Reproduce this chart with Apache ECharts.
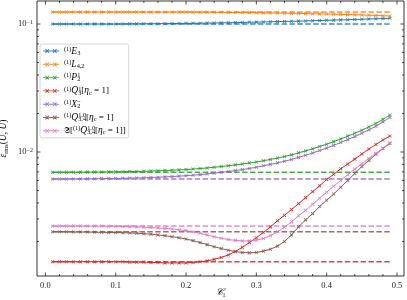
<!DOCTYPE html>
<html><head><meta charset="utf-8">
<script src="https://cdn.jsdelivr.net/npm/echarts@6/dist/echarts.min.js"></script>
<style>html,body{margin:0;padding:0;background:#fff}#c{width:407px;height:300px}</style>
</head><body><div id="c"></div>
<script>
const xValues = [0.01,0.02,0.03,0.04,0.05,0.06,0.07,0.08,0.09,0.10,0.11,0.12,0.13,0.14,0.15,0.16,0.17,0.18,0.19,0.20,0.21,0.22,0.23,0.24,0.25,0.26,0.27,0.28,0.29,0.30,0.31,0.32,0.33,0.34,0.35,0.36,0.37,0.38,0.39,0.40,0.41,0.42,0.43,0.44,0.45,0.46,0.47,0.48,0.49];

const valE3 = [0.1000,0.1000,0.1000,0.1000,0.1000,0.1000,0.1000,0.1000,0.1000,0.1000,0.1001,0.1002,0.1003,0.1004,0.1005,0.1006,0.1007,0.1008,0.1010,0.1011,0.1013,0.1015,0.1017,0.1019,0.1021,0.1023,0.1026,0.1029,0.1032,0.1035,0.1038,0.1041,0.1044,0.1047,0.1050,0.1053,0.1057,0.1061,0.1065,0.1069,0.1073,0.1077,0.1081,0.1085,0.1090,0.1095,0.1100,0.1104,0.1108];
const valL42 = [0.1240,0.1240,0.1240,0.1240,0.1240,0.1240,0.1240,0.1240,0.1240,0.1240,0.1240,0.1240,0.1240,0.1240,0.1240,0.1240,0.1240,0.1240,0.1240,0.1240,0.1239,0.1238,0.1237,0.1236,0.1235,0.1233,0.1231,0.1229,0.1227,0.1225,0.1223,0.1221,0.1218,0.1215,0.1212,0.1209,0.1206,0.1203,0.1200,0.1197,0.1193,0.1189,0.1185,0.1181,0.1177,0.1172,0.1167,0.1161,0.1155];
const valP21 = [0.00694,0.00694,0.00694,0.00695,0.00695,0.00696,0.00697,0.00698,0.00699,0.00700,0.00702,0.00703,0.00705,0.00707,0.00710,0.00713,0.00717,0.00721,0.00725,0.00730,0.00736,0.00743,0.00751,0.00760,0.00770,0.00781,0.00793,0.00806,0.00820,0.00835,0.00855,0.00875,0.00897,0.00922,0.00950,0.00985,0.01020,0.01060,0.01105,0.01150,0.01205,0.01265,0.01330,0.01400,0.01480,0.01570,0.01670,0.01800,0.01945];
const valQ31 = [0.00139,0.00139,0.00139,0.00139,0.00139,0.00139,0.00139,0.00139,0.00139,0.00139,0.00139,0.00138,0.00138,0.00138,0.00137,0.00137,0.00136,0.00136,0.00136,0.00136,0.00137,0.00139,0.00141,0.00145,0.00150,0.00157,0.00167,0.00180,0.00196,0.00214,0.00235,0.00260,0.00290,0.00320,0.00355,0.00395,0.00440,0.00490,0.00545,0.00610,0.00670,0.00740,0.00805,0.00880,0.00965,0.01055,0.01145,0.01240,0.01334];
const valX2 = [0.00615,0.00615,0.00615,0.00616,0.00616,0.00617,0.00618,0.00619,0.00620,0.00621,0.00623,0.00625,0.00627,0.00629,0.00632,0.00635,0.00639,0.00643,0.00648,0.00653,0.00659,0.00666,0.00674,0.00683,0.00693,0.00704,0.00716,0.00729,0.00744,0.00760,0.00780,0.00800,0.00822,0.00847,0.00875,0.00908,0.00943,0.00983,0.01027,0.01073,0.01127,0.01187,0.01250,0.01320,0.01400,0.01490,0.01590,0.01720,0.01866];
const valQ34 = [0.00238,0.00238,0.00238,0.00237,0.00237,0.00237,0.00236,0.00236,0.00235,0.00235,0.00234,0.00233,0.00232,0.00230,0.00228,0.00225,0.00222,0.00218,0.00214,0.00209,0.00203,0.00196,0.00189,0.00182,0.00176,0.00171,0.00167,0.00164,0.00163,0.00164,0.00168,0.00174,0.00184,0.00200,0.00225,0.00260,0.00295,0.00330,0.00375,0.00420,0.00470,0.00530,0.00600,0.00680,0.00770,0.00860,0.00960,0.01065,0.01165];
const valSQ34 = [0.00264,0.00264,0.00264,0.00264,0.00264,0.00264,0.00264,0.00264,0.00263,0.00263,0.00262,0.00261,0.00260,0.00259,0.00257,0.00255,0.00253,0.00250,0.00247,0.00243,0.00238,0.00232,0.00225,0.00218,0.00212,0.00207,0.00204,0.00202,0.00202,0.00205,0.00211,0.00222,0.00238,0.00258,0.00285,0.00318,0.00350,0.00390,0.00435,0.00485,0.00540,0.00600,0.00665,0.00735,0.00810,0.00890,0.00975,0.01070,0.01180];

const refValues = [0.1000, 0.1240, 0.00694, 0.00139, 0.00615, 0.00238, 0.00264];
const seriesNames = ['E3','L42','P21','Q31','X2','Q34','SQ34'];
const seriesLabels = [
  '{p|(1)}{i|E}{b|3}',
  '{p|(1)}{i|L}{b|4,2}',
  '{p|(1)}{i|P}{bz|2}{p|1}',
  '{p|(1)}{i|Q}{bz|3}{p|1}{n|[}{i|η}{b|c}{n| = 1]}',
  '{p|(1)}{i|X}{bz|2}{p|−}',
  '{p|(1)}{i|Q}{bz|3,4}{p|1,0}{n|[}{i|η}{b|c}{n| = 1]}',
  '{n|𝔖[}{p|(1)}{i|Q}{bz|3,4}{p|1,0}{n|[}{i|η}{b|c}{n| = 1]]}'
];
const seriesValues = [valE3, valL42, valP21, valQ31, valX2, valQ34, valSQ34];
const colors = ['#1f77b4','#ff7f0e','#2ca02c','#d62728','#9467bd','#8c564b','#e377c2'];

const xTickLabels = [0, 0.1, 0.2, 0.3, 0.4, 0.5];
const xMinorTicks = [0.02,0.04,0.06,0.08,0.12,0.14,0.16,0.18,0.22,0.24,0.26,0.28,0.32,0.34,0.36,0.38,0.42,0.44,0.46,0.48];
const yMajorTicks = [0.01, 0.1];
const yMinorTicks = [0.002,0.003,0.004,0.005,0.006,0.007,0.008,0.009,0.02,0.03,0.04,0.05,0.06,0.07,0.08,0.09];

const SERIF = "'Liberation Serif', 'DejaVu Serif', serif";
const xMarker = 'path://M1.6,0L10,8.4L8.4,10L0,1.6Z M8.4,0L10,1.6L1.6,10L0,8.4Z';
function xAt(cx){return `M${cx-2.8},1L${cx+4},7.8L${cx+2.8},9L${cx-4},2.2Z M${cx+2.8},1L${cx+4},2.2L${cx-2.8},9L${cx-4},7.8Z`;}
const legendIcon = 'path://M0,4.2L8,4.2L8,5.8L0,5.8Z M11,4.2L19,4.2L19,5.8L11,5.8Z M22,4.2L30,4.2L30,5.8L22,5.8Z M0,4.7L30,4.7L30,5.3L0,5.3Z ' + xAt(8) + ' ' + xAt(22);

const tickData = [];
xTickLabels.forEach(v => tickData.push([v, 0.01, 0, 3.5]));
xMinorTicks.forEach(v => tickData.push([v, 0.01, 0, 2]));
yMajorTicks.forEach(v => tickData.push([0.2, v, 1, 3.5]));
yMinorTicks.forEach(v => tickData.push([0.2, v, 1, 2]));

const series = [];
seriesNames.forEach((nm, k) => {
  series.push({
    type: 'line', name: nm + '_ref', silent: true,
    data: [[xValues[0], refValues[k]], [xValues[xValues.length-1], refValues[k]]],
    showSymbol: false, symbol: 'none',
    lineStyle: {color: colors[k], width: 1.5, type: [5.5, 2.4], opacity: 0.85},
    z: 2
  });
});
seriesNames.forEach((nm, k) => {
  series.push({
    type: 'line', name: nm,
    data: xValues.map((x, i) => [x, seriesValues[k][i]]),
    symbol: xMarker, symbolSize: 3.6, showSymbol: true,
    lineStyle: {color: colors[k], width: 1},
    itemStyle: {color: colors[k], opacity: 0.9},
    z: 3
  });
});
series.push({
  type: 'custom', name: 'ticks', silent: true, z: 5,
  data: tickData,
  encode: {x: 0, y: 1},
  renderItem: function(params, api) {
    const cs = params.coordSys;
    const pt = api.coord([api.value(0), api.value(1)]);
    const kind = api.value(2), len = api.value(3);
    const st = {stroke: '#000', lineWidth: 0.7};
    if (kind === 0) {
      return {type: 'group', children: [
        {type: 'line', shape: {x1: pt[0], y1: cs.y + cs.height, x2: pt[0], y2: cs.y + cs.height - len}, style: st},
        {type: 'line', shape: {x1: pt[0], y1: cs.y, x2: pt[0], y2: cs.y + len}, style: st}
      ]};
    }
    return {type: 'group', children: [
      {type: 'line', shape: {x1: cs.x, y1: pt[1], x2: cs.x + len, y2: pt[1]}, style: st},
      {type: 'line', shape: {x1: cs.x + cs.width, y1: pt[1], x2: cs.x + cs.width - len, y2: pt[1]}, style: st}
    ]};
  }
});

const richLegend = {
  n: {fontFamily: SERIF, fontSize: 9, lineHeight: 10, color: '#000'},
  i: {fontFamily: SERIF, fontStyle: 'italic', fontSize: 9.5, lineHeight: 10, color: '#000'},
  p: {fontFamily: SERIF, fontSize: 6.3, lineHeight: 6, verticalAlign: 'top', color: '#000'},
  b: {fontFamily: SERIF, fontSize: 6.3, lineHeight: 6, verticalAlign: 'bottom', color: '#000'},
  bz: {fontFamily: SERIF, fontSize: 6.3, lineHeight: 6, verticalAlign: 'bottom', width: 0.01, color: '#000'}
};

const chart = echarts.init(document.getElementById('c'), null, {renderer: 'canvas'});
chart.setOption({
  animation: false,
  backgroundColor: '#fff',
  grid: {left: 37, right: 3, top: 1, bottom: 24, show: true, borderColor: '#000', borderWidth: 0.8, containLabel: false, outerBoundsMode: 'none'},
  xAxis: {
    type: 'value', min: -0.012, max: 0.51,
    axisLine: {show: false}, axisTick: {show: false}, splitLine: {show: false},
    axisLabel: {
      showMinLabel: false, showMaxLabel: false, margin: 5,
      fontFamily: SERIF, fontSize: 8.5, color: '#222',
      formatter: v => (Math.abs(v*10 - Math.round(v*10)) < 1e-6 ? v.toFixed(1) : '')
    },
    name: '{c|𝒞}{s|1}', nameLocation: 'middle', nameGap: 10, nameMoveOverlap: false,
    nameTextStyle: {rich: {
      c: {fontFamily: SERIF, fontStyle: 'italic', fontSize: 10, lineHeight: 12, color: '#000'},
      s: {fontFamily: SERIF, fontSize: 6, lineHeight: 6, verticalAlign: 'bottom', color: '#000'}
    }}
  },
  yAxis: {
    type: 'log', min: 0.0010746, max: 0.1513, logBase: 10,
    axisLine: {show: false}, axisTick: {show: false}, splitLine: {show: false},
    axisLabel: {
      showMinLabel: false, showMaxLabel: false, margin: 4,
      formatter: v => { const l = Math.log10(v); return Math.abs(l - Math.round(l)) < 1e-6 ? '{b|10}{s|−' + (-Math.round(l)) + '}' : ''; },
      rich: {
        b: {fontFamily: SERIF, fontSize: 8.5, lineHeight: 10, color: '#222'},
        s: {fontFamily: SERIF, fontSize: 6, lineHeight: 6, verticalAlign: 'top', color: '#222'}
      }
    },
    name: '{e|ε}{s|rms}{n|(}{e|U}{n|, }{e|Ũ}{n|)}', nameLocation: 'middle', nameGap: 28, nameRotate: 90, nameMoveOverlap: false,
    nameTextStyle: {rich: {
      e: {fontFamily: SERIF, fontStyle: 'italic', fontSize: 9.5, lineHeight: 11, color: '#000'},
      n: {fontFamily: SERIF, fontSize: 9.5, lineHeight: 11, color: '#000'},
      s: {fontFamily: SERIF, fontSize: 6.3, lineHeight: 6, verticalAlign: 'bottom', color: '#000'}
    }}
  },
  legend: {
    data: seriesNames, orient: 'vertical', left: 40, top: 44,
    icon: legendIcon, itemWidth: 16, itemHeight: 5, itemGap: 3.3,
    padding: [2, 3, 2, 3],
    backgroundColor: 'rgba(255,255,255,0.85)', borderColor: '#ccc', borderWidth: 0.8, borderRadius: 2,
    formatter: name => seriesLabels[seriesNames.indexOf(name)],
    textStyle: {rich: richLegend},
    selectedMode: false
  },
  series: series
});
</script></body></html>
